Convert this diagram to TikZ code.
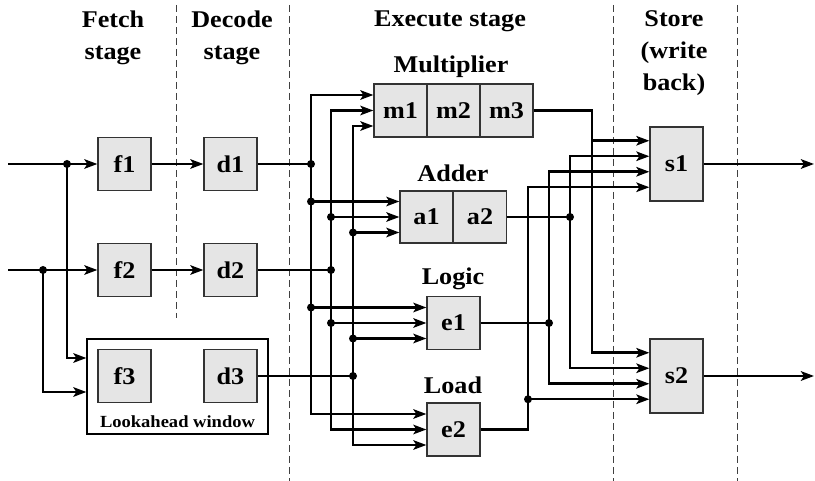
\documentclass[tikz,border=0pt]{standalone}
\usepackage{fontspec}
\setmainfont{Liberation Serif}[FakeStretch=1.09]
\usetikzlibrary{arrows.meta}
\begin{document}
\begin{tikzpicture}[x=1pt,y=-1pt,
  box/.style={draw=black!80,fill=black!10,line width=1.3pt,minimum width=53pt,minimum height=53pt,inner sep=0pt,font=\fontsize{24}{28}\selectfont\bfseries},
  tallbox/.style={box,minimum height=74pt},
  lookbox/.style={draw=black,line width=1.2pt,minimum width=181pt,minimum height=95pt,inner sep=0pt},
  lab/.style={font=\fontsize{24}{32}\selectfont\bfseries,align=center,anchor=base,inner sep=0pt},
  smalllab/.style={font=\fontsize{17}{20}\selectfont\bfseries,anchor=base,inner sep=0pt},
  conn/.style={line width=2.5pt},
  arr/.style={conn,-{Stealth[length=13pt,width=9.5pt,inset=3pt]}},
  dashline/.style={line width=1pt,black!75,dash pattern=on 7pt off 4pt},
  dot/.style={fill=black}]
\useasboundingbox (0,0) rectangle (815,481);

% stage separators
\draw[dashline] (176,5) -- (176,318);
\draw[dashline] (289,5) -- (289,481);
\draw[dashline] (613,5) -- (613,481);
\draw[dashline] (737,5) -- (737,481);

% stage labels (anchor = baseline of last line)
\node[lab] (lfetch) at (113,60) {Fetch\\stage};
\node[lab] (ldecode) at (232,60) {Decode\\stage};
\node[lab] (lexec) at (450,27) {Execute stage};
\node[lab] (lstore) at (674,91) {Store\\(write\\back)};
\node[lab] (lmult) at (451,73) {Multiplier};
\node[lab] (ladd) at (453,182) {Adder};
\node[lab] (llogic) at (453,285) {Logic};
\node[lab] (lload) at (453,394) {Load};

% lookahead window
\node[lookbox] (look) at (177.5,386.5) {};
\node[smalllab] (looklab) at (177.5,428) {Lookahead window};

% boxes
\node[box] (f1) at (124.5,164) {f1};
\node[box] (d1) at (230.5,164) {d1};
\node[box] (f2) at (124.5,270) {f2};
\node[box] (d2) at (230.5,270) {d2};
\node[box] (f3) at (124.5,376) {f3};
\node[box] (d3) at (230.5,376) {d3};
\node[box] (m1) at (400.5,110.5) {m1};
\node[box] (m2) at (453.5,110.5) {m2};
\node[box] (m3) at (506.5,110.5) {m3};
\node[box,minimum height=52pt] (a1) at (426.5,217) {a1};
\node[box,minimum height=52pt] (a2) at (480,217) {a2};
\node[box] (e1) at (453.5,323) {e1};
\node[box] (e2) at (453.5,429.5) {e2};
\node[tallbox] (s1) at (676.5,164) {s1};
\node[tallbox] (s2) at (676.5,376) {s2};

% coordinates
\coordinate (in1) at (8,164);
\coordinate (in2) at (8,270);
\coordinate (j1) at (67,164);
\coordinate (j2) at (43,270);
\coordinate (jA) at (311,164);
\coordinate (jB) at (331,270);
\coordinate (jC) at (353,376);
\coordinate (out1) at (814,164);
\coordinate (out2) at (814,376);
\coordinate (s1i1) at ([yshift=23.25pt]s1.west);
\coordinate (s1i2) at ([yshift=7.75pt]s1.west);
\coordinate (s1i3) at ([yshift=-7.75pt]s1.west);
\coordinate (s1i4) at ([yshift=-23.25pt]s1.west);
\coordinate (s2i1) at ([yshift=23.25pt]s2.west);
\coordinate (s2i2) at ([yshift=7.75pt]s2.west);
\coordinate (s2i3) at ([yshift=-7.75pt]s2.west);
\coordinate (s2i4) at ([yshift=-23.25pt]s2.west);
\foreach \n in {m1,a1,e1,e2} {
  \coordinate (\n-A) at ([yshift=15.5pt]\n.west);
  \coordinate (\n-B) at (\n.west);
  \coordinate (\n-C) at ([yshift=-15.5pt]\n.west);
}

% fetch and decode
\draw[arr] (in1) -- (f1.west);
\draw[arr] (in2) -- (f2.west);
\draw[arr] (j1) |- ([yshift=28.5pt]look.west);
\draw[arr] (j2) |- ([yshift=-5.5pt]look.west);
\draw[arr] (f1) -- (d1);
\draw[arr] (f2) -- (d2);
\draw[conn] (d1) -- (jA);
\draw[conn] (d2) -- (jB);
\draw[conn] (d3) -- (jC);

% issue buses
\foreach \n in {m1,a1,e1,e2} {
  \draw[arr] (jA) |- (\n-A);
  \draw[arr] (jB) |- (\n-B);
  \draw[arr] (jC) |- (\n-C);
}

% results to store
\draw[arr] (m3.east) -| (592,0 |- s2i1) -- (s2i1);
\draw[arr] (592,0 |- s1i1) -- (s1i1);
\draw[conn] (a2.east) -- (570,0 |- a2.east);
\draw[arr] (570,0 |- a2.east) |- (s1i2);
\draw[arr] (570,0 |- a2.east) |- (s2i2);
\draw[conn] (e1.east) -- (549,0 |- e1.east);
\draw[arr] (549,0 |- e1.east) |- (s1i3);
\draw[arr] (549,0 |- e1.east) |- (s2i3);
\draw[arr] (e2.east) -| (528,0 |- s1i4) -- (s1i4);
\draw[arr] (528,0 |- s2i4) -- (s2i4);
\draw[arr] (s1) -- (out1);
\draw[arr] (s2) -- (out2);

% junction dots
\foreach \p in {j1,j2,jA,jB,jC} \fill[dot] (\p) circle (4pt);
\foreach \n in {a1,e1} {
  \fill[dot] (jA |- \n-A) circle (4pt);
  \fill[dot] (jB |- \n-B) circle (4pt);
  \fill[dot] (jC |- \n-C) circle (4pt);
}
\fill[dot] (570,0 |- a2.east) circle (4pt);
\fill[dot] (549,0 |- e1.east) circle (4pt);
\fill[dot] (528,0 |- s2i4) circle (4pt);
\end{tikzpicture}
\end{document}
